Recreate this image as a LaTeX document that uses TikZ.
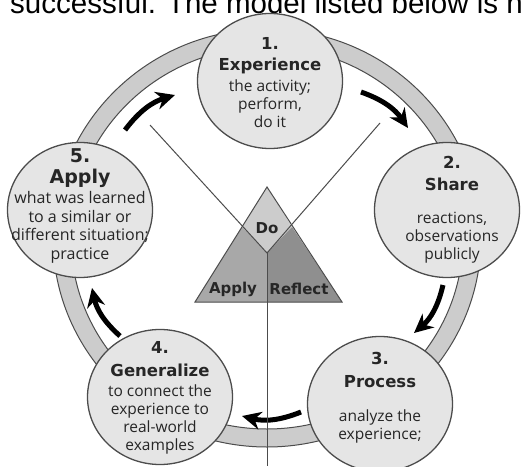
\documentclass[tikz,border=0pt]{standalone}
\usepackage{fontspec}
\setmainfont{Open Sans}
\newfontfamily\headfont{DejaVu Sans}
\newfontfamily\pagefont{Liberation Sans}
\usetikzlibrary{arrows.meta,shapes.geometric}

\definecolor{ringgray}{gray}{0.80}
\definecolor{stagegray}{gray}{0.90}
\definecolor{edgegray}{gray}{0.30}
\definecolor{textgray}{gray}{0.15}
\definecolor{dogray}{gray}{0.80}
\definecolor{applygray}{gray}{0.66}
\definecolor{reflectgray}{gray}{0.56}

\newcommand{\stephead}[1]{{\headfont\bfseries\fontsize{16.5}{18}\selectfont #1}}
\newcommand{\parthead}[1]{{\headfont\bfseries\fontsize{15}{18}\selectfont #1}}

\tikzset{
  stage/.style={ellipse, draw=edgegray, line width=1.3pt, fill=stagegray,
    minimum width=145pt, minimum height=135pt, inner sep=0pt},
  stagetext/.style={align=center, text=textgray, inner sep=0pt,
    font=\fontsize{15.5}{18}\selectfont},
  flow/.style={line width=5pt, -{Stealth[length=19pt,width=18pt]}, bend left=18},
  part/.style={draw=edgegray, line width=1pt},
}

\begin{document}
\begin{tikzpicture}[x=1pt, y=-1pt]
	\useasboundingbox (0,0) rectangle (522,466);
	\clip (0,0) rectangle (522,466);
	\fill[white] (0,0) rectangle (522,466);
	\node[anchor=base west, inner sep=0pt, font=\pagefont\fontsize{29.5}{30}\selectfont] (intro) at (10,13)
	  {successful. The model listed below is no};
	% ring behind the stages
	\coordinate (ringc) at (267,238);
	\filldraw[fill=ringgray, draw=edgegray, line width=1pt, even odd rule]
	  (ringc) ellipse [x radius=214, y radius=209] (ringc) ellipse [x radius=196, y radius=191];
	\node[stage] (exp) at (270,81) {};
	\node[stage] (share) at (447,210) {};
	\node[stage] (proc) at (380,404) {};
	\node[stage] (gen) at (160,397) {};
	\node[stage] (apply) at (80,210) {};
	\node[stagetext] (exp-t) at (270,83)
	  {\stephead{1.}\\[3pt] \stephead{Experience}\\[3pt] the activity;\\ perform,\\ do it};
	\node[stagetext] (share-t) at (452,210)
	  {\stephead{2.}\\[4pt] \stephead{Share}\\[15pt] reactions,\\ observations\\ publicly};
	\node[stagetext] (proc-t) at (380,398)
	  {\stephead{3.}\\[5pt] \stephead{Process}\\[16pt] analyze the\\ experience;};
	\node[stagetext] (gen-t) at (160,398)
	  {\stephead{4.}\\[5pt] \stephead{Generalize}\\[2pt] to connect the\\ experience to\\ real-world\\ examples};
	\node[stagetext, font=\fontsize{16}{18.5}\selectfont] (apply-t) at (80,206)
	  {{\headfont\bfseries\fontsize{19}{18}\selectfont 5.}\\[2pt] {\headfont\bfseries\fontsize{19}{18}\selectfont Apply}\\[2pt]
	   what was learned\\ to a similar or\\ different situation;\\ practice};
	% arrows between the stages
	\coordinate (a1) at (125,130); \coordinate (b1) at (175,95);
	\coordinate (a2) at (361,92);  \coordinate (b2) at (408,128);
	\coordinate (a3) at (443,285); \coordinate (b3) at (414,333);
	\coordinate (a4) at (301,412); \coordinate (b4) at (242,416);
	\coordinate (a5) at (120,336); \coordinate (b5) at (92,288);
	\foreach \i in {1,...,5}
	  \draw[flow] (a\i) to (b\i);
	% do - reflect - apply triangle
	\coordinate (apex) at (267,187);
	\coordinate (baseL) at (195,302);
	\coordinate (baseR) at (342,302);
	\coordinate (baseM) at (267,302);
	\coordinate (doL) at (242,227);
	\coordinate (doR) at (292,227);
	\coordinate (hub) at (267,253);
	\coordinate (armL) at (150,125);
	\coordinate (armR) at (380,123);
	\coordinate (foot) at (267,466);
	\fill[dogray] (apex) -- (doL) -- (hub) -- (doR) -- cycle;
	\fill[applygray] (doL) -- (baseL) -- (baseM) -- (hub) -- cycle;
	\fill[reflectgray] (doR) -- (baseR) -- (baseM) -- (hub) -- cycle;
	\draw[part] (apex) -- (baseL) -- (baseR) -- cycle;
	\draw[part] (armL) -- (hub) -- (armR);
	\draw[part] (hub) -- (foot);
	\node[text=textgray] (do-t) at (267,228) {\parthead{Do}};
	\node[text=textgray] (apl-t) at (233,289) {\parthead{Apply}};
	\node[text=textgray] (ref-t) at (299,289) {\parthead{Reflect}};
\end{tikzpicture}
\end{document}
